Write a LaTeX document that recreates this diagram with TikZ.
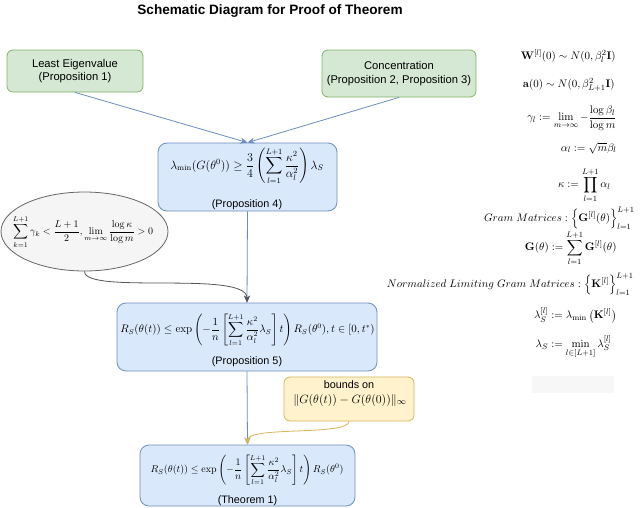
\documentclass[tikz,border=0pt]{standalone}
\usepackage{amsmath,amssymb}
\usepackage[no-math]{fontspec}
\setmainfont{Liberation Sans}
\usetikzlibrary{arrows.meta,shapes.geometric}
\definecolor{gfill}{HTML}{D5E8D4}\definecolor{gdraw}{HTML}{82B366}
\definecolor{bfill}{HTML}{DAE8FC}\definecolor{bdraw}{HTML}{6C8EBF}
\definecolor{yfill}{HTML}{FFF2CC}\definecolor{ydraw}{HTML}{D6B656}
\definecolor{efill}{HTML}{F5F5F5}\definecolor{edraw}{HTML}{666666}
\definecolor{garrow}{HTML}{555555}
\begin{document}
\begin{tikzpicture}[x=1pt,y=-1pt,
  greenbox/.style={draw=gdraw,fill=gfill,rounded corners=6pt,align=center,font=\fontsize{11.2}{13.5}\selectfont},
  bluebox/.style={draw=bdraw,fill=bfill,rounded corners=9pt},
  yellowbox/.style={draw=ydraw,fill=yfill,rounded corners=6pt},
  ellbox/.style={draw=edraw,fill=efill,ellipse},
  caption/.style={font=\fontsize{10.8}{13}\selectfont,inner sep=0pt},
  formula/.style={inner sep=0pt},
  rcol/.style={inner sep=0pt,anchor=east,font=\fontsize{11}{13}\selectfont},
  barrow/.style={draw=bdraw,-{Stealth[length=7pt,width=6pt,inset=2pt]}},
  darrow/.style={draw=garrow,-{Stealth[length=7pt,width=6pt,inset=2pt]}},
  yarrow/.style={draw=ydraw,-{Stealth[length=7pt,width=6pt,inset=2pt]}},
  line width=0.8pt]
\useasboundingbox (0,0) rectangle (640,507);
\fill[white] (0,0) rectangle (640,507);

\node[font=\bfseries\fontsize{13.6}{16}\selectfont,inner sep=0pt] (title) at (270,11) {Schematic Diagram for Proof of Theorem};

\node[greenbox,minimum width=136pt,minimum height=42pt] (g1) at (75,71) {Least Eigenvalue\\(Proposition 1)};
\node[greenbox,minimum width=154pt,minimum height=47pt] (g2) at (399,73.5) {Concentration\\(Proposition 2, Proposition 3)};

\node[bluebox,minimum width=179pt,minimum height=68pt] (p4) at (247.5,177) {};
\node[formula,font=\fontsize{11.8}{14}\selectfont] (p4f) at (247,166) {$\displaystyle \lambda_{\min}(G(\theta^0)) \geq \frac{3}{4}\left(\sum_{l=1}^{L+1}\frac{\kappa^2}{\alpha_l^2}\right)\lambda_S$};
\node[caption] (p4c) at (247,205) {(Proposition 4)};

\node[ellbox,minimum width=167pt,minimum height=79pt] (el) at (84.5,231.5) {};
\node[formula,font=\fontsize{10.4}{12}\selectfont] (elf) at (83,232) {$\displaystyle \sum_{k=1}^{L+1}\gamma_k < \frac{L+1}{2}, \lim_{m\to\infty}\frac{\log\kappa}{\log m} > 0$};

\node[bluebox,minimum width=260pt,minimum height=68pt] (p5) at (247,337) {};
\node[formula,font=\fontsize{10.6}{12}\selectfont] (p5f) at (247.5,330) {$\displaystyle R_S(\theta(t)) \leq \exp\left(-\frac{1}{n}\left[\sum_{l=1}^{L+1}\frac{\kappa^2}{\alpha_l^2}\lambda_S\right]t\right)R_S(\theta^0), t\in[0,t^*)$};
\node[caption] (p5c) at (247,362) {(Proposition 5)};

\node[yellowbox,minimum width=130pt,minimum height=44pt] (yb) at (349,399) {};
\node[caption] (ybt) at (349,385) {bounds on};
\node[formula,font=\fontsize{12.5}{14}\selectfont] (ybf) at (350,400) {$\|G(\theta(t))-G(\theta(0))\|_\infty$};

\node[bluebox,minimum width=215pt,minimum height=61pt] (th) at (247.5,475.5) {};
\node[formula] (thf) at (247,470) {$\displaystyle R_S(\theta(t)) \leq \exp\left(-\frac{1}{n}\left[\sum_{l=1}^{L+1}\frac{\kappa^2}{\alpha_l^2}\lambda_S\right]t\right)R_S(\theta^0)$};
\node[caption] (thc) at (247.5,501) {(Theorem 1)};

\draw[barrow] (g1.south) -- (p4.north);
\draw[barrow] (g2.south) -- (p4.north);
\draw[barrow] (p4.south) -- (p5.north);
\draw[darrow] (el.south) .. controls (84.5,295) and (247,270) .. (p5.north);
\draw[barrow] (p5.south) -- (th.north);
\draw[yarrow] (yb.south) .. controls (349,436) and (247.5,426) .. (th.north);

% right column
\node[rcol] (r1) at (616,56) {$\mathbf{W}^{[l]}(0)\sim N(0,\beta_l^2\mathbf{I})$};
\node[rcol] (r2) at (615,85) {$\mathbf{a}(0)\sim N(0,\beta_{L+1}^2\mathbf{I})$};
\node[rcol] (r3) at (617,118) {$\displaystyle \gamma_l := \lim_{m\to\infty} -\frac{\log\beta_l}{\log m}$};
\node[rcol] (r4) at (617,148) {$\alpha_l := \sqrt{m}\beta_l$};
\node[rcol] (r5) at (611,185) {$\displaystyle \kappa := \prod_{l=1}^{L+1}\alpha_l$};
\node[rcol] (r6) at (635,218) {$\displaystyle Gram\ Matrices : \left\{\mathbf{G}^{[l]}(\theta)\right\}_{l=1}^{L+1}$};
\node[rcol] (r7) at (617,248) {$\displaystyle \mathbf{G}(\theta) := \sum_{l=1}^{L+1}\mathbf{G}^{[l]}(\theta)$};
\node[rcol] (r8) at (634,284) {$\displaystyle Normalized\ Limiting\ Gram\ Matrices : \left\{\mathbf{K}^{[l]}\right\}_{l=1}^{L+1}$};
\node[rcol] (r9) at (617,315) {$\lambda_S^{[l]} := \lambda_{\min}\left(\mathbf{K}^{[l]}\right)$};
\node[rcol] (r10) at (612,347) {$\displaystyle \lambda_S := \min_{l\in[L+1]}\lambda_S^{[l]}$};
\fill[black!3] (532,376) rectangle (614,393);
\end{tikzpicture}
\end{document}
